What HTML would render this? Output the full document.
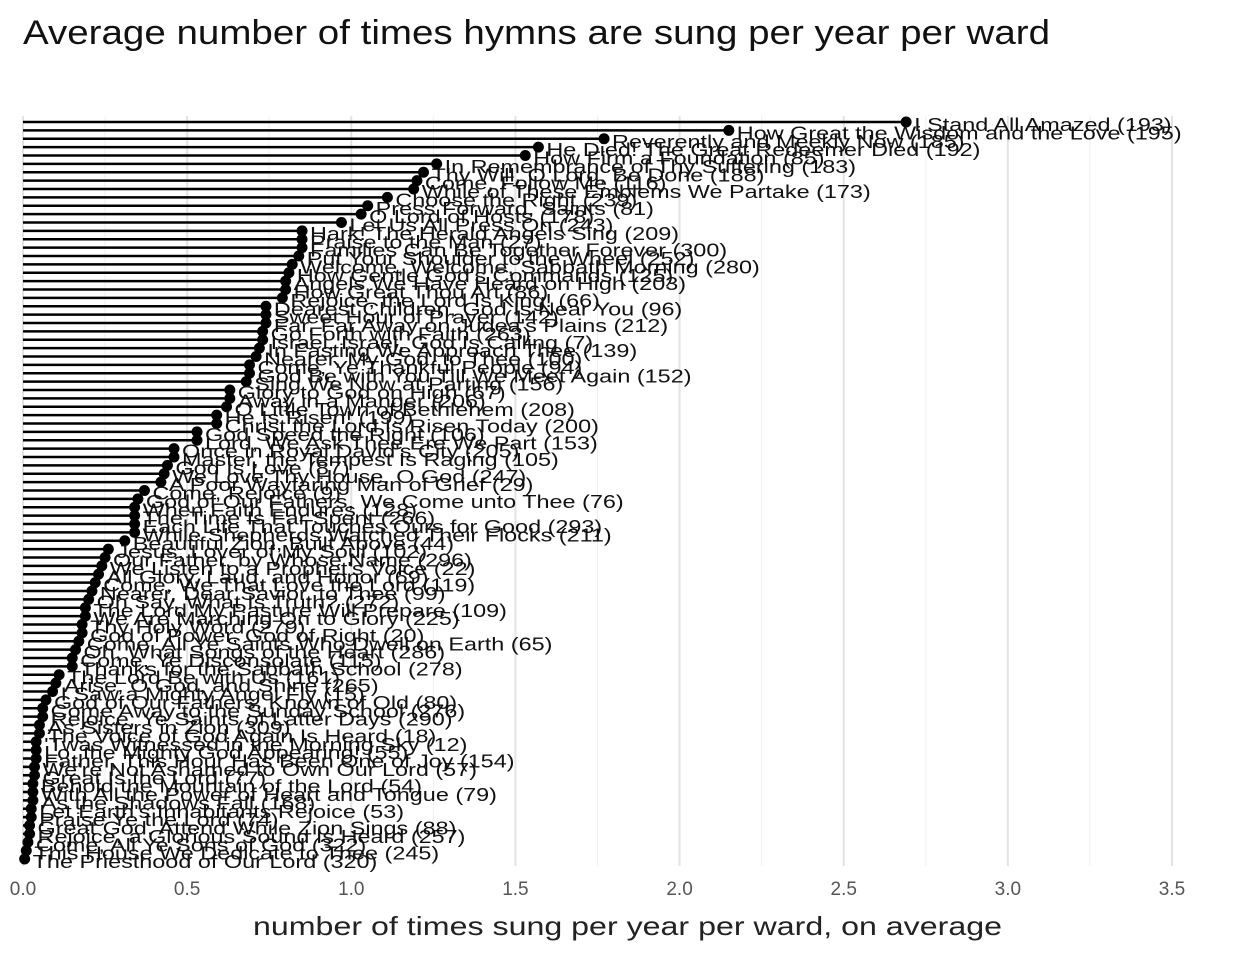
<!DOCTYPE html>
<html><head><meta charset="utf-8"><style>
body{margin:0;background:#fff;}
svg{display:block;font-family:"Liberation Sans",sans-serif;}
</style></head><body>
<svg id="chart" width="1248" height="960">
<text x="23" y="44" font-size="34" fill="#111" textLength="1027" lengthAdjust="spacingAndGlyphs">Average number of times hymns are sung per year per ward</text>
<g id="grid"></g><g id="marks"></g><g id="xaxis"></g>
<text x="253" y="935" font-size="26" textLength="749" lengthAdjust="spacingAndGlyphs" fill="#222">number of times sung per year per ward, on average</text>
</svg>
<script>
const hymns=["I Stand All Amazed (193)","How Great the Wisdom and the Love (195)","Reverently and Meekly Now (185)","He Died! The Great Redeemer Died (192)","How Firm a Foundation (85)","In Remembrance of Thy Suffering (183)","Thy Will, O Lord, Be Done (188)","Come, Follow Me (116)","While of These Emblems We Partake (173)","Choose the Right (239)","Press Forward, Saints (81)","O Lord of Hosts (178)","Let Us All Press On (243)","Hark! The Herald Angels Sing (209)","Praise to the Man (27)","Families Can Be Together Forever (300)","Put Your Shoulder to the Wheel (252)","Welcome, Welcome, Sabbath Morning (280)","How Gentle God's Commands (125)","Angels We Have Heard on High (203)","How Great Thou Art (86)","Rejoice, the Lord Is King! (66)","Dearest Children, God Is Near You (96)","Sweet Hour of Prayer (142)","Far, Far Away on Judea's Plains (212)","Go Forth with Faith (263)","Israel, Israel, God Is Calling (7)","In Fasting We Approach Thee (139)","Nearer, My God, to Thee (100)","Come, Ye Thankful People (94)","God Be with You Till We Meet Again (152)","Sing We Now at Parting (156)","Glory to God on High (67)","Away in a Manger (206)","O Little Town of Bethlehem (208)","He Is Risen! (199)","Christ the Lord Is Risen Today (200)","God Speed the Right (106)","Lord, We Ask Thee Ere We Part (153)","Once in Royal David's City (205)","Master, the Tempest Is Raging (105)","God Is Love (87)","We Love Thy House, O God (247)","A Poor Wayfaring Man of Grief (29)","Come, Rejoice (9)","God of Our Fathers, We Come unto Thee (76)","When Faith Endures (128)","The Time Is Far Spent (266)","Each Life That Touches Ours for Good (293)","While Shepherds Watched Their Flocks (211)","Beautiful Zion, Built Above (44)","Jesus, Lover of My Soul (102)","Our Father, by Whose Name (296)","We Listen to a Prophet's Voice (22)","All Glory, Laud, and Honor (69)","Come, We That Love the Lord (119)","Nearer, Dear Savior, to Thee (99)","Oh Say, What Is Truth? (272)","The Lord My Pasture Will Prepare (109)","We Are Marching On to Glory (225)","Thy Holy Word (279)","God of Power, God of Right (20)","Come, All Ye Saints Who Dwell on Earth (65)","Oh, What Songs of the Heart (286)","Come, Ye Disconsolate (115)","Thanks for the Sabbath School (278)","The Lord Be with Us (161)","Arise, O God, and Shine (265)","I Saw a Mighty Angel Fly (15)","God of Our Fathers, Known of Old (80)","Come Away to the Sunday School (276)","Rejoice, Ye Saints of Latter Days (290)","As Sisters in Zion (309)","The Voice of God Again Is Heard (18)","'Twas Witnessed in the Morning Sky (12)","Lo, the Mighty God Appearing! (55)","Father, This Hour Has Been One of Joy (154)","We're Not Ashamed to Own Our Lord (57)","Great Is the Lord (77)","Behold the Mountain of the Lord (54)","With All the Power of Heart and Tongue (79)","As the Shadows Fall (168)","Let Earth's Inhabitants Rejoice (53)","Praise Ye the Lord (74)","Great God, Attend While Zion Sings (88)","Rejoice, a Glorious Sound Is Heard (257)","Come, All Ye Sons of God (322)","This House We Dedicate to Thee (245)","The Priesthood of Our Lord (320)"];
const timesSung=[2.69,2.15,1.77,1.57,1.53,1.26,1.22,1.20,1.19,1.11,1.05,1.03,0.97,0.85,0.85,0.85,0.84,0.82,0.81,0.80,0.80,0.79,0.74,0.74,0.74,0.73,0.73,0.72,0.71,0.69,0.69,0.68,0.63,0.63,0.62,0.59,0.59,0.53,0.53,0.46,0.46,0.44,0.43,0.42,0.37,0.35,0.34,0.34,0.34,0.34,0.31,0.26,0.25,0.24,0.23,0.22,0.21,0.20,0.19,0.19,0.18,0.18,0.17,0.16,0.15,0.15,0.11,0.10,0.09,0.07,0.06,0.06,0.05,0.05,0.04,0.04,0.04,0.035,0.035,0.03,0.03,0.03,0.025,0.025,0.02,0.02,0.015,0.01,0.005];
const xTicks=[0,0.5,1.0,1.5,2.0,2.5,3.0,3.5];
const xTickLabels=["0.0","0.5","1.0","1.5","2.0","2.5","3.0","3.5"];
const NS="http://www.w3.org/2000/svg";
const X0=23,X1=1172,xMax=3.5,yTop=122,yBot=859;
const xs=v=>X0+(X1-X0)*v/xMax;
const ys=i=>yTop+(yBot-yTop)*i/(hymns.length-1);
function mk(t,a,p){const e=document.createElementNS(NS,t);for(const k in a)e.setAttribute(k,a[k]);p.appendChild(e);return e;}
const grid=document.getElementById('grid'),marks=document.getElementById('marks'),xa=document.getElementById('xaxis');
for(let v=0;v<=xMax+1e-9;v+=0.25){
  const major=Math.abs(v*2-Math.round(v*2))<1e-9;
  const l=mk('line',{x1:xs(v),x2:xs(v),y1:116,y2:866,stroke:major?'#e3e3e3':'#efefef','stroke-width':major?2:1},grid);
  
  
}
xTicks.forEach((v,i)=>{
  const t=mk('text',{x:xs(v),y:895,'font-size':19,'text-anchor':'middle',fill:'#555'},xa);
  t.textContent=xTickLabels[i];
  
  
});
hymns.forEach((h,i)=>{
  const y=ys(i),x=xs(timesSung[i]);
  const s=mk('line',{x1:X0,x2:x,y1:y,y2:y,stroke:'#000','stroke-width':2.6},marks);
  
  
  const c=mk('circle',{cx:x,cy:y,r:5.5,fill:'#000'},marks);
  
  
});
hymns.forEach((h,i)=>{
  const t=mk('text',{x:xs(timesSung[i])+8,y:ys(i)+9,'font-size':18,fill:'#111'},marks);
  t.textContent=h;
  
  
  const w=t.getComputedTextLength();
  t.setAttribute('textLength',(w*1.3).toFixed(1));
  t.setAttribute('lengthAdjust','spacingAndGlyphs');
});
</script>
</body></html>
